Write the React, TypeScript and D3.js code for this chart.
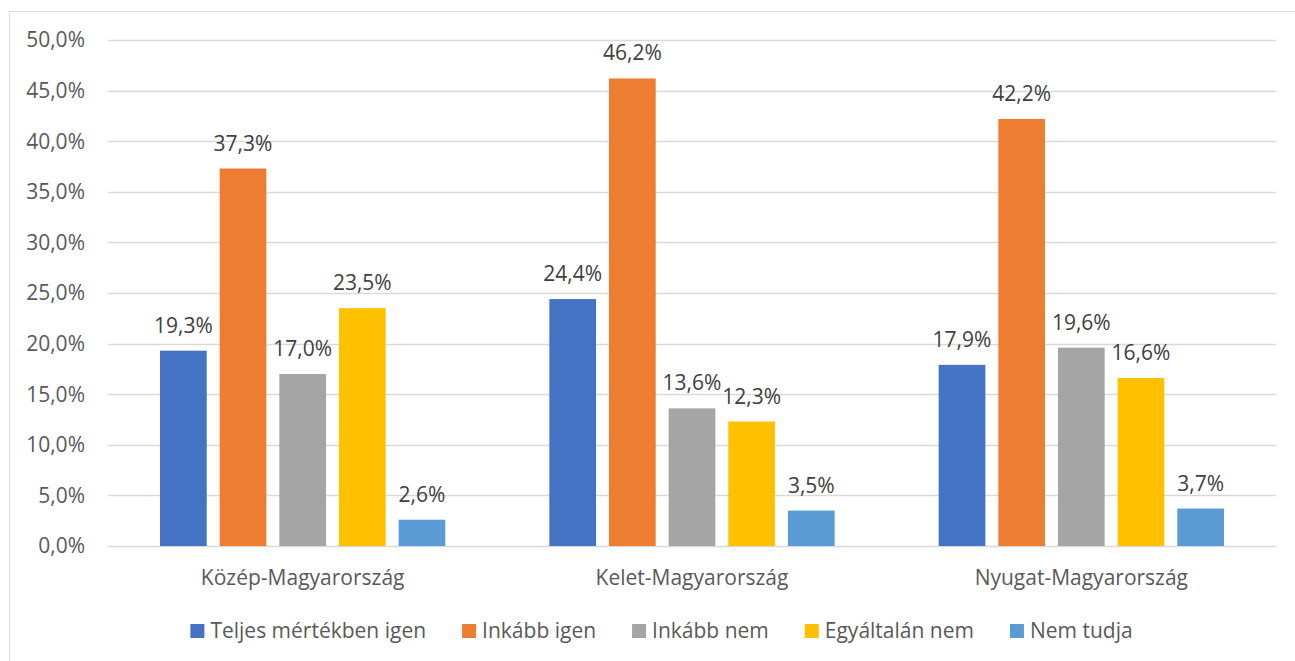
import React, { useEffect, useRef } from "react";
import * as d3 from "d3";

const regions = ["Közép-Magyarország", "Kelet-Magyarország", "Nyugat-Magyarország"];
const seriesNames = ["Teljes mértékben igen", "Inkább igen", "Inkább nem", "Egyáltalán nem", "Nem tudja"];
const seriesColors = ["#4472C4", "#ED7D31", "#A5A5A5", "#FFC000", "#5B9BD5"];
// values per series, one per region
const teljesIgen = [19.3, 24.4, 17.9];
const inkabbIgen = [37.3, 46.2, 42.2];
const inkabbNem = [17.0, 13.6, 19.6];
const egyaltalanNem = [23.5, 12.3, 16.6];
const nemTudja = [2.6, 3.5, 3.7];
const yTicks = [0, 5, 10, 15, 20, 25, 30, 35, 40, 45, 50];

const seriesValues = [teljesIgen, inkabbIgen, inkabbNem, egyaltalanNem, nemTudja];

const W = 1295;
const H = 661;
const FONT = "'Open Sans', 'Noto Sans', sans-serif";
const FS = 21;
const fmt = (v: number) => v.toFixed(1).replace(".", ",") + "%";

const App = () => {
  const ref = useRef<SVGSVGElement>(null);

  useEffect(() => {
    const svg = d3.select(ref.current);
    svg.selectAll("*").remove();

    const plot = { left: 108, right: 1276, top: 40, bottom: 546 };

    // chart frame
    svg
      .append("rect")
      .attr("x", 9.5)
      .attr("y", 11.5)
      .attr("width", W + 20)
      .attr("height", H + 20)
      .attr("fill", "#fff")
      .attr("stroke", "#D9D9D9");

    const y = d3.scaleLinear().domain([0, 50]).range([plot.bottom, plot.top]);
    const x0 = d3.scaleBand<string>().domain(regions).range([plot.left, plot.right]);
    const x1 = d3
      .scaleBand<string>()
      .domain(seriesNames)
      .range([52, x0.bandwidth() - 52])
      .paddingInner(0.217);

    // gridlines
    svg
      .append("g")
      .selectAll("line")
      .data(yTicks)
      .join("line")
      .attr("x1", plot.left)
      .attr("x2", plot.right)
      .attr("y1", (d) => Math.round(y(d)) + 0.5)
      .attr("y2", (d) => Math.round(y(d)) + 0.5)
      .attr("stroke", "#D9D9D9")
      .attr("stroke-width", 1.3);

    // y tick labels
    svg
      .append("g")
      .selectAll("text")
      .data(yTicks)
      .join("text")
      .attr("x", 85)
      .attr("y", (d) => y(d))
      .attr("dy", "0.35em")
      .attr("text-anchor", "end")
      .attr("font-family", FONT)
      .attr("font-size", FS)
      .attr("fill", "#595959")
      .text((d) => fmt(d));

    // bars and labels
    const groups = svg
      .append("g")
      .selectAll("g")
      .data(regions)
      .join("g")
      .attr("transform", (d) => `translate(${x0(d)},0)`);

    const cells = (ri: number) =>
      seriesNames.map((s, si) => ({ s, si, v: seriesValues[si][ri] }));

    groups
      .selectAll("rect")
      .data((_, ri) => cells(ri))
      .join("rect")
      .attr("x", (d) => x1(d.s)!)
      .attr("width", x1.bandwidth())
      .attr("y", (d) => y(d.v))
      .attr("height", (d) => y(0) - y(d.v))
      .attr("fill", (d) => seriesColors[d.si]);

    groups
      .selectAll("text")
      .data((_, ri) => cells(ri))
      .join("text")
      .attr("x", (d) => x1(d.s)! + x1.bandwidth() / 2)
      .attr("y", (d) => y(d.v) - 18)
      .attr("text-anchor", "middle")
      .attr("font-family", FONT)
      .attr("font-size", FS)
      .attr("fill", "#404040")
      .text((d) => fmt(d.v));

    // category labels
    svg
      .append("g")
      .selectAll("text")
      .data(regions)
      .join("text")
      .attr("x", (d) => x0(d)! + x0.bandwidth() / 2)
      .attr("y", 578)
      .attr("dy", "0.35em")
      .attr("text-anchor", "middle")
      .attr("font-family", FONT)
      .attr("font-size", FS)
      .attr("fill", "#595959")
      .text((d) => d);

    // legend
    const legend = svg.append("g");
    const items = legend
      .selectAll("g")
      .data(seriesNames)
      .join("g");
    items
      .append("rect")
      .attr("y", 624)
      .attr("width", 14)
      .attr("height", 14)
      .attr("fill", (_, i) => seriesColors[i]);
    items
      .append("text")
      .attr("x", 20)
      .attr("y", 631)
      .attr("dy", "0.35em")
      .attr("font-family", FONT)
      .attr("font-size", FS)
      .attr("fill", "#595959")
      .text((d) => d);

    let offset = 0;
    const positions: number[] = [];
    items.each(function () {
      positions.push(offset);
      const t = (this as SVGGElement).querySelector("text") as SVGTextElement;
      offset += 20 + t.getComputedTextLength() + 36;
    });
    const total = offset - 36;
    const start = 661.5 - total / 2;
    items.attr("transform", (_, i) => `translate(${start + positions[i]},0)`);
  }, []);

  return (
    <svg
      ref={ref}
      width={W}
      height={H}
      style={{ position: "absolute", left: 0, top: 0, background: "#fff" }}
    />
  );
};

export default App;
